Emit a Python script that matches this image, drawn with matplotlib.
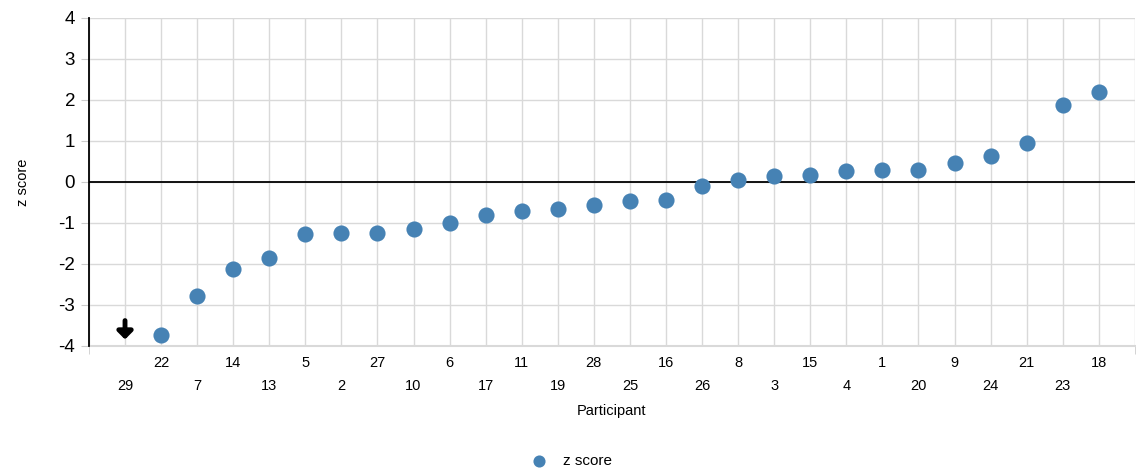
import matplotlib.pyplot as plt
import numpy as np

plt.rcParams['font.family'] = ['Liberation Sans', 'DejaVu Sans']
plt.rcParams['axes.unicode_minus'] = False

# Teilnehmer in Reihenfolge der z-Werte (29 liegt unterhalb der Skala)
participants = ["29", "22", "7", "14", "13", "5", "2", "27", "10", "6", "17", "11", "19", "28",
                "25", "16", "26", "8", "3", "15", "4", "1", "20", "9", "24", "21", "23", "18"]
z_scores = [np.nan, -3.74, -2.78, -2.12, -1.85, -1.27, -1.24, -1.24, -1.15, -1.0, -0.80, -0.71,
            -0.66, -0.56, -0.46, -0.44, -0.10, 0.05, 0.15, 0.17, 0.27, 0.29, 0.29, 0.47, 0.64,
            0.95, 1.88, 2.20]
off_scale = ["29"]

fig = plt.figure(figsize=(11.36, 4.73), dpi=100)
ax = fig.add_axes([0.0783, 0.2685, 0.9207, 0.6935])

x = np.arange(len(participants))
ax.scatter(x, z_scores, s=135, color="#4682B4", zorder=3, label="z score", linewidths=0)

# Pfeil für Werte außerhalb der Skala
for p in off_scale:
    i = participants.index(p)
    ax.annotate("", xy=(i, -3.84), xytext=(i, -3.38),
                arrowprops=dict(arrowstyle="-|>,head_width=0.45,head_length=0.45",
                                color="black", lw=3.5, shrinkA=0, shrinkB=0))

ax.set_xlim(-1, len(participants))
ax.set_ylim(-4, 4)
ax.set_yticks(range(-4, 5))
ax.tick_params(axis="y", labelsize=13.5, length=6, color="#cccccc", pad=4)
ax.set_xticks(x)
ax.set_xticks(np.arange(-1, len(participants) + 1), minor=True)
ax.set_xticklabels([p if i % 2 == 1 else "\n" + p for i, p in enumerate(participants)], linespacing=1.85)
ax.tick_params(axis="x", which="major", labelsize=10.5, length=0, pad=7)
ax.tick_params(axis="x", which="minor", length=6, color="#cccccc")

ax.grid(True, color="#d9d9d9", lw=1)
ax.grid(True, which="minor", axis="x", color="#d9d9d9", lw=1)
ax.set_axisbelow(True)
ax.axhline(-4, color="#d9d9d9", lw=1.5, clip_on=False, zorder=1)
ax.axhline(0, color="black", lw=1.3, zorder=2)
for s in ["top", "right", "bottom"]:
    ax.spines[s].set_visible(False)
ax.spines["left"].set_color("black")
ax.spines["left"].set_linewidth(1.3)

ax.set_xlabel("Participant", fontsize=10.5, labelpad=8)
ax.set_ylabel("z score", fontsize=10.5, labelpad=20)

fig.legend(*ax.get_legend_handles_labels(), loc="center", bbox_to_anchor=(0.5, 0.026),
           frameon=False, fontsize=11, handletextpad=0.6, markerscale=0.75)

fig.savefig("out.png", dpi=100)
